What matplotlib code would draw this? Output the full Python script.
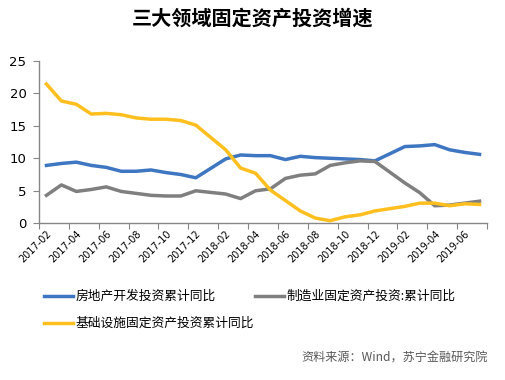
import numpy as np
import matplotlib
matplotlib.use('Agg')
import matplotlib.pyplot as plt

plt.rcParams['font.family'] = ['Noto Sans CJK SC', 'DejaVu Sans']

# month labels on the axis (every two months, January included in the axis)
axis_months = ['2017-02', '2017-03', '2017-04', '2017-05', '2017-06', '2017-07',
               '2017-08', '2017-09', '2017-10', '2017-11', '2017-12', '2018-01',
               '2018-02', '2018-03', '2018-04', '2018-05', '2018-06', '2018-07',
               '2018-08', '2018-09', '2018-10', '2018-11', '2018-12', '2019-01',
               '2019-02', '2019-03', '2019-04', '2019-05', '2019-06', '2019-07']

# months that have data (no January figures)
data_months = ['2017-02', '2017-03', '2017-04', '2017-05', '2017-06', '2017-07',
               '2017-08', '2017-09', '2017-10', '2017-11', '2017-12',
               '2018-02', '2018-03', '2018-04', '2018-05', '2018-06', '2018-07',
               '2018-08', '2018-09', '2018-10', '2018-11', '2018-12',
               '2019-02', '2019-03', '2019-04', '2019-05', '2019-06', '2019-07']

real_estate = [8.9, 9.2, 9.4, 8.9, 8.6, 8.0, 8.0, 8.2, 7.8, 7.5, 7.0,
               9.9, 10.5, 10.4, 10.4, 9.8, 10.3, 10.1, 10.0, 9.9, 9.8, 9.6,
               11.8, 11.9, 12.1, 11.3, 10.9, 10.6]
manufacturing = [4.3, 5.9, 4.9, 5.2, 5.6, 4.9, 4.6, 4.3, 4.2, 4.2, 5.0,
                 4.5, 3.8, 5.0, 5.3, 6.9, 7.4, 7.6, 8.9, 9.3, 9.6, 9.5,
                 6.2, 4.7, 2.7, 2.8, 3.1, 3.4]
infrastructure = [21.4, 18.8, 18.3, 16.8, 16.9, 16.7, 16.2, 16.0, 16.0, 15.8, 15.1,
                  11.3, 8.5, 7.7, 5.1, 3.5, 1.9, 0.8, 0.4, 1.0, 1.3, 1.9,
                  2.6, 3.1, 3.1, 2.7, 3.0, 2.9]

series_names = ['房地产开发投资累计同比', '制造业固定资产投资:累计同比', '基础设施固定资产投资累计同比']
colors = ['#3E76C1', '#7F7F7F', '#FFBF1F']

x = np.array([axis_months.index(m) for m in data_months])

fig = plt.figure(figsize=(5.06, 3.80), dpi=100)
ax = fig.add_axes([39 / 506, 1 - 223.3 / 380, 448 / 506, 162.6 / 380])

lines = []
for vals, name, c in zip([real_estate, manufacturing, infrastructure], series_names, colors):
    ln, = ax.plot(x, vals, color=c, linewidth=2.5, label=name, solid_joinstyle='round')
    lines.append(ln)

ax.set_xlim(-0.5, len(axis_months) - 0.5)
ax.set_ylim(0, 25)
ax.set_yticks([0, 5, 10, 15, 20, 25])

# tick marks at boundaries, labels at category centres
ax.set_xticks(np.arange(-0.5, len(axis_months), 2))
ax.set_xticklabels([])
ax.set_xticks(np.arange(0, len(axis_months), 2), minor=True)
ax.set_xticklabels(axis_months[::2], minor=True, rotation=45, ha='right',
                   rotation_mode='anchor', fontsize=7, family='DejaVu Sans')
ax.tick_params(axis='x', which='minor', length=0, pad=4)
ax.tick_params(axis='x', which='major', length=4, color='#868686')
ax.tick_params(axis='y', length=4, color='#868686', labelsize=9.5, pad=5)
for lbl in ax.get_yticklabels():
    lbl.set_family('DejaVu Sans')

for side in ['top', 'right']:
    ax.spines[side].set_visible(False)
for side in ['left', 'bottom']:
    ax.spines[side].set_color('#868686')
    ax.spines[side].set_linewidth(1)

fig.text(0.5, 1 - 18 / 380, '三大领域固定资产投资增速', ha='center', va='center',
         fontsize=14.5, fontweight='bold')

# legend: row 1 blue + gray, row 2 yellow (column-major fill)
fig.legend([lines[0], lines[2], lines[1]],
           [series_names[0], series_names[2], series_names[1]],
           ncol=2, loc='upper left', bbox_to_anchor=(44 / 506, 1 - 290 / 380),
           frameon=False, fontsize=9.2, handlelength=2.3, handletextpad=0.15,
           columnspacing=0.1, labelspacing=1.1, borderaxespad=0, borderpad=0)

fig.text(488 / 506, 1 - 358 / 380, '资料来源：Wind，苏宁金融研究院', ha='right', va='center',
         fontsize=8.7, color='#595959', style='italic')

fig.savefig('out.png', dpi=100)
